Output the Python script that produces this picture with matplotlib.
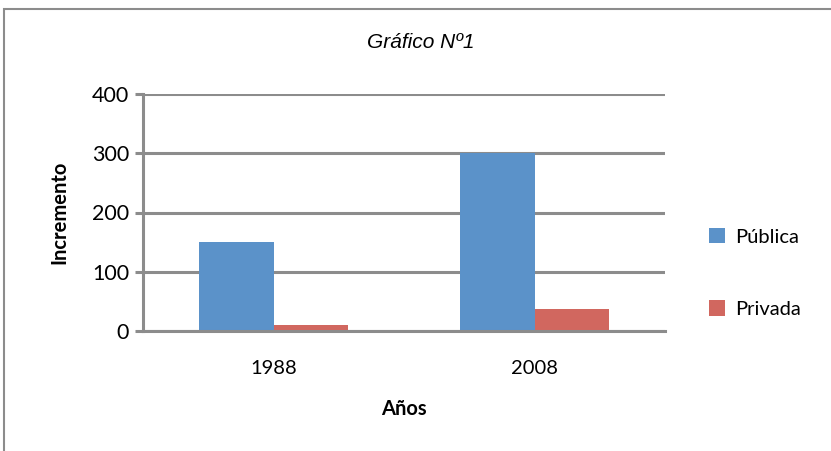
import numpy as np
import matplotlib.pyplot as plt
from matplotlib.patches import Rectangle

anios = ["1988", "2008"]
publica = [150, 300]
privada = [10, 37]

plt.rcParams['font.family'] = ['Lato', 'DejaVu Sans']

fig = plt.figure(figsize=(8.31, 4.51), dpi=100)
ax = fig.add_axes([143/831, 1 - 331/451, 522/831, 237/451])

x = np.arange(len(anios))
ancho = 0.285
ax.bar(x - ancho/2, publica, ancho, color="#5b92c9", label="Pública")
ax.bar(x + ancho/2, privada, ancho, color="#d1675f", label="Privada")

ax.set_xlim(-0.5, 1.5)
ax.set_ylim(0, 400)
ax.set_yticks([0, 100, 200, 300, 400])
ax.set_xticks(x)
ax.set_xticklabels(anios)
ax.yaxis.grid(True, color="#8c8c8c", linewidth=2.2)
ax.set_axisbelow(True)
for lado in ["top", "right"]:
    ax.spines[lado].set_visible(False)
for lado in ["left", "bottom"]:
    ax.spines[lado].set_color("#8c8c8c")
    ax.spines[lado].set_linewidth(2.2)
ax.tick_params(axis="y", length=6, width=2.2, color="#8c8c8c", labelsize=15.5, pad=4)
ax.tick_params(axis="x", length=0, labelsize=14.5, pad=21)

ax.set_ylabel("Incremento", fontsize=14.5, fontweight="bold", labelpad=16)
ax.set_xlabel("Años", fontsize=14.5, fontweight="bold", labelpad=16)

fig.text(421/831, 1 - 43/451, "Gráfico Nº1", fontsize=15, style="italic",
         family="Liberation Sans", ha="center", va="center")

ax.legend(loc="center left", bbox_to_anchor=((701 - 143)/522, 0.245), frameon=False,
          fontsize=14.5, handlelength=0.8, handleheight=0.8, labelspacing=2.7,
          handletextpad=0.5, borderaxespad=0)

fig.patches.append(Rectangle((4/831, -0.1), 1.2, 1.1 - 9/451, transform=fig.transFigure,
                             fill=False, edgecolor="#8c8c8c", linewidth=1.5))

fig.savefig("out.png", dpi=100)
